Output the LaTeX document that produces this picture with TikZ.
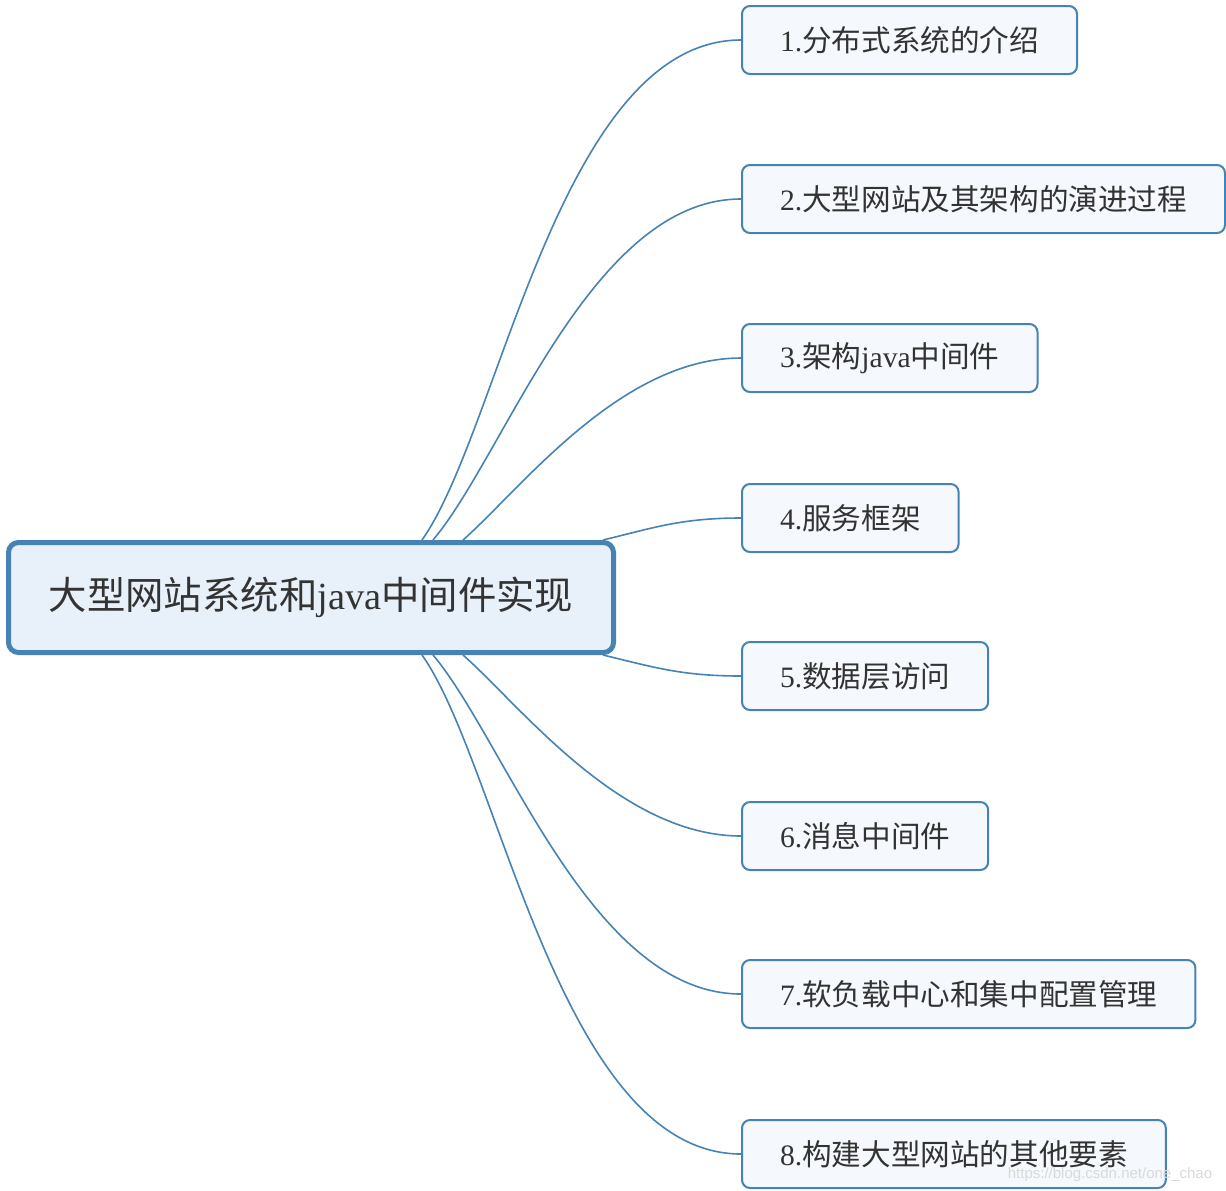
\documentclass[tikz,border=0pt]{standalone}
\usepackage{fontspec}
\setmainfont{Liberation Serif}
\newfontfamily\cjk{Noto Sans CJK SC}
\newfontfamily\wmfont{Liberation Sans}
\usetikzlibrary{positioning,calc}
\definecolor{mapblue}{HTML}{4682B4}
\definecolor{rootfill}{HTML}{E8F1FA}
\definecolor{leaffill}{HTML}{F5F8FC}
\definecolor{txtgray}{HTML}{333333}

\begin{document}
\begin{tikzpicture}[
  x=0.5pt, y=-0.5pt,
  root/.style={draw=mapblue, line width=2.5pt, rounded corners=5pt, fill=rootfill,
               minimum width=302.5pt, minimum height=55pt, text=txtgray,
               font=\fontsize{19.2}{22}\selectfont},
  leaf/.style={draw=mapblue, line width=1pt, rounded corners=4pt, fill=leaffill,
               anchor=west, inner xsep=19pt, minimum height=34pt, text=txtgray,
               font=\fontsize{14.8}{17}\selectfont},
  branch/.style={draw=mapblue, line width=0.8pt},
]
\useasboundingbox (0,0) rectangle (1226,1190);

\node[root] (root) at (311,597.5) {{\cjk 大型网站系统和}java{\cjk 中间件实现}};

\node[leaf] (c1) at (741,40)   {1.{\cjk 分布式系统的介绍}};
\node[leaf] (c2) at (741,199)  {2.{\cjk 大型网站及其架构的演进过程}};
\node[leaf] (c3) at (741,358)  {3.{\cjk 架构}java{\cjk 中间件}};
\node[leaf] (c4) at (741,518)  {4.{\cjk 服务框架}};
\node[leaf] (c5) at (741,676)  {5.{\cjk 数据层访问}};
\node[leaf] (c6) at (741,836)  {6.{\cjk 消息中间件}};
\node[leaf] (c7) at (741,994)  {7.{\cjk 软负载中心和集中配置管理}};
\node[leaf] (c8) at (741,1154) {8.{\cjk 构建大型网站的其他要素}};

% 上半部分分支
\draw[branch] ($(root.north)+(111,0)$) .. controls +(78,-110) and +(-181,0) .. (c1.west);
\draw[branch] ($(root.north)+(122,0)$) .. controls +(72,-85) and +(-150,0) .. (c2.west);
\draw[branch] ($(root.north)+(152,0)$) .. controls +(57,-50) and +(-121,0) .. (c3.west);
\draw[branch] ($(root.north)+(292,0)$) .. controls +(50,-12) and +(-60,0) .. (c4.west);
% 下半部分分支（与上半部分对称）
\draw[branch] ($(root.south)+(292,0)$) .. controls +(50,12) and +(-60,0) .. (c5.west);
\draw[branch] ($(root.south)+(152,0)$) .. controls +(57,50) and +(-121,0) .. (c6.west);
\draw[branch] ($(root.south)+(122,0)$) .. controls +(72,85) and +(-150,0) .. (c7.west);
\draw[branch] ($(root.south)+(111,0)$) .. controls +(78,110) and +(-181,0) .. (c8.west);

\node[text=gray!30, font=\wmfont\fontsize{7.5}{9}\selectfont] (watermark) at (1110,1175)
  {https://blog.csdn.net/one\_chao};
\end{tikzpicture}
\end{document}
